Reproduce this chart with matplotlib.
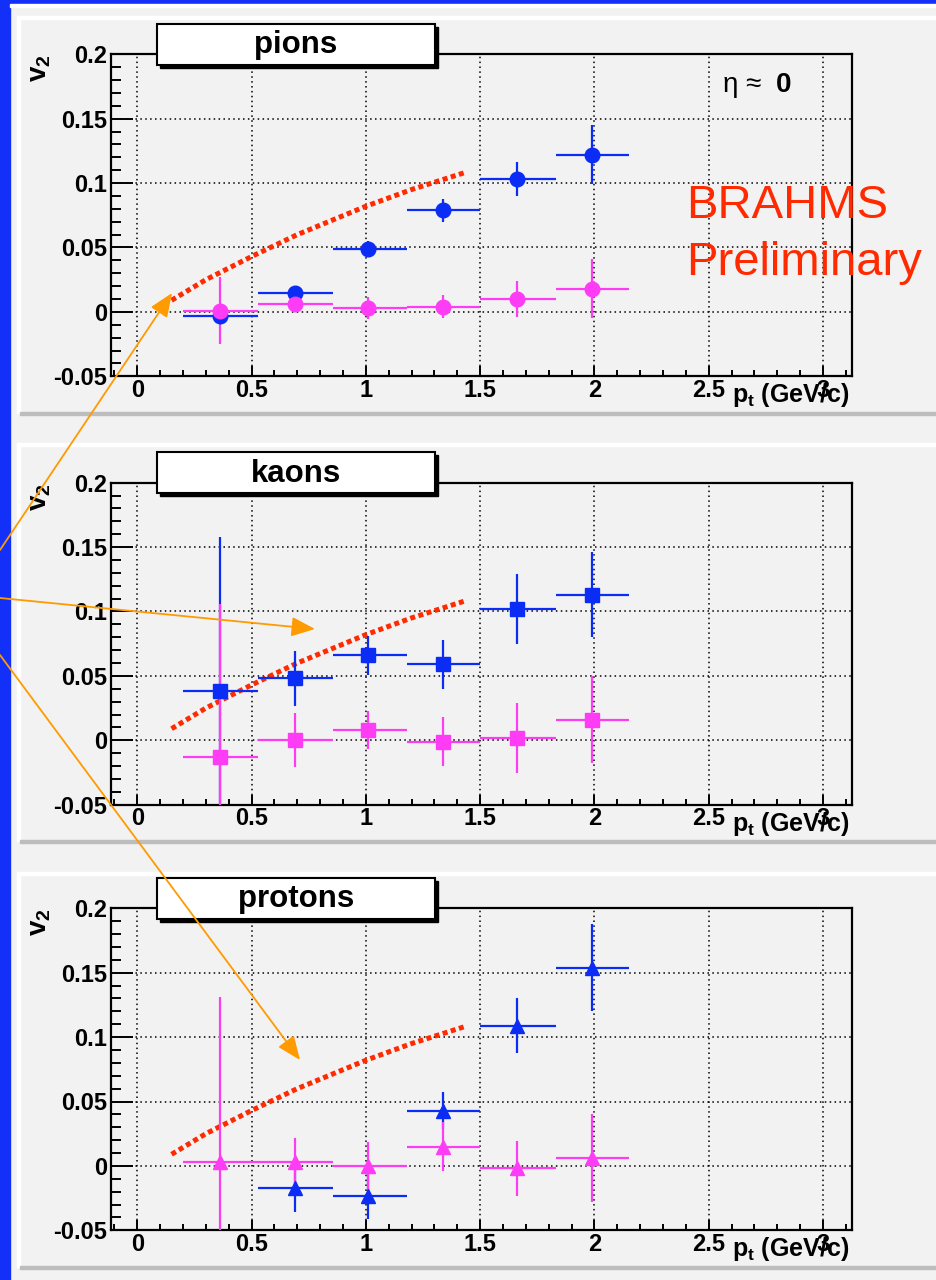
import numpy as np
import matplotlib
matplotlib.use("Agg")
import matplotlib.pyplot as plt
from matplotlib.patches import Rectangle
from matplotlib.ticker import MultipleLocator, FuncFormatter

plt.rcParams["font.family"] = ["Liberation Sans", "DejaVu Sans"]
plt.rcParams["font.weight"] = "bold"
plt.rcParams["axes.unicode_minus"] = False
plt.rcParams["mathtext.fontset"] = "custom"
plt.rcParams["mathtext.rm"] = "Liberation Sans"
plt.rcParams["mathtext.it"] = "Liberation Sans:italic"
plt.rcParams["mathtext.bf"] = "Liberation Sans:bold"

# ---------------------------------------------------------------- data
# pT bin centres and bin edges (GeV/c)
pt = np.array([0.362, 0.690, 1.010, 1.338, 1.663, 1.991])
pt_lo = np.array([0.200, 0.530, 0.855, 1.180, 1.500, 1.830])
pt_hi = np.array([0.530, 0.855, 1.180, 1.500, 1.830, 2.150])

# pions
pion_blue = [-0.003, 0.015, 0.049, 0.079, 0.103, 0.122]
pion_blue_err = [0.005, 0.005, 0.006, 0.009, 0.013, 0.023]
pion_pink = [0.001, 0.006, 0.003, 0.004, 0.010, 0.018]
pion_pink_err = [0.026, 0.005, 0.0085, 0.009, 0.014, 0.023]

# kaons
kaon_blue = [0.038, 0.048, 0.066, 0.059, 0.102, 0.113]
kaon_blue_err = [0.120, 0.021, 0.015, 0.019, 0.027, 0.033]
kaon_pink = [-0.013, 0.0005, 0.008, -0.001, 0.002, 0.016]
kaon_pink_err = [0.119, 0.021, 0.015, 0.019, 0.027, 0.034]

# protons (no blue measurement in the lowest bin)
proton_blue = [np.nan, -0.017, -0.023, 0.043, 0.109, 0.154]
proton_blue_err = [np.nan, 0.019, 0.018, 0.0145, 0.021, 0.034]
proton_pink = [0.003, 0.003, 0.000, 0.015, -0.002, 0.006]
proton_pink_err = [0.128, 0.019, 0.0185, 0.019, 0.021, 0.034]

# hydrodynamics curve
hydro_pt = [0.15, 0.30, 0.50, 0.70, 1.00, 1.20, 1.43]
hydro_v2 = [0.009, 0.025, 0.043, 0.060, 0.082, 0.095, 0.108]

titles = ["pions", "kaons", "protons"]
markers = ["o", "s", "^"]
blue_sets = [(pion_blue, pion_blue_err), (kaon_blue, kaon_blue_err),
             (proton_blue, proton_blue_err)]
pink_sets = [(pion_pink, pion_pink_err), (kaon_pink, kaon_pink_err),
             (proton_pink, proton_pink_err)]
x_ticks = [0, 0.5, 1, 1.5, 2, 2.5, 3]
y_ticks = [-0.05, 0, 0.05, 0.1, 0.15, 0.2]

# ---------------------------------------------------------------- styling
W, H = 937, 1280
BLUE_BG = "#1230f8"
PAD = "#f2f2f2"
C_BLUE = "#0a2cf5"
C_PINK = "#ff3cf5"
C_RED = "#ff2a00"
C_ORANGE = "#ff9a00"

fig = plt.figure(figsize=(W / 100, H / 100), dpi=100)

# background layer in pixel coordinates
bg = fig.add_axes([0, 0, 1, 1])
bg.set_xlim(0, W)
bg.set_ylim(H, 0)
bg.axis("off")
bg.set_zorder(-5)
bg.add_patch(Rectangle((0, 0), W, H, color=PAD))
bg.add_patch(Rectangle((0, 0), 10, H, color=BLUE_BG))
bg.add_patch(Rectangle((0, 0), W, 4, color=BLUE_BG))
bg.add_patch(Rectangle((10, 4), W, 3, color="white"))

pad_tops = [16, 443, 872]
pad_bottoms = [413, 841, 1267]
for t, b in zip(pad_tops, pad_bottoms):
    bg.add_patch(Rectangle((17, t), W, 3, color="white"))
    bg.add_patch(Rectangle((17, t), 3, b - t, color="white"))
    bg.add_patch(Rectangle((20, b - 1.5), W, 3.5, color="#bdbdbd"))

# overlay layer for boxes, labels and arrows
ov = fig.add_axes([0, 0, 1, 1])
ov.set_xlim(0, W)
ov.set_ylim(H, 0)
ov.axis("off")
ov.set_zorder(10)
ov.patch.set_alpha(0)

ax_left, ax_w, ax_h = 111, 741, 322
ax_tops = [54.3, 482.7, 908.3]


def fmt(v, _pos):
    return "%g" % v


for i in range(3):
    top = ax_tops[i]
    ax = fig.add_axes([ax_left / W, 1 - (top + ax_h) / H, ax_w / W, ax_h / H])
    ax.set_facecolor("none")
    ax.set_xlim(-0.115, 3.127)
    ax.set_ylim(-0.05, 0.2)

    ax.xaxis.set_major_locator(plt.FixedLocator(x_ticks))
    ax.yaxis.set_major_locator(plt.FixedLocator(y_ticks))
    ax.xaxis.set_minor_locator(MultipleLocator(0.1))
    ax.yaxis.set_minor_locator(MultipleLocator(0.01))
    ax.xaxis.set_major_formatter(FuncFormatter(fmt))
    ax.yaxis.set_major_formatter(FuncFormatter(fmt))
    ax.tick_params(which="both", direction="in", top=False, right=False,
                   width=1.4, labelsize=17)
    ax.xaxis.set_tick_params(which="major", length=7.5, pad=2)
    ax.xaxis.set_tick_params(which="minor", length=4.5)
    ax.yaxis.set_tick_params(which="major", length=16, pad=3)
    ax.yaxis.set_tick_params(which="minor", length=7.5)
    for sp in ax.spines.values():
        sp.set_linewidth(1.6)
    ax.grid(True, which="major", color="black", linestyle=(0, (1, 2.2)),
            linewidth=1.1)

    # hydro curve
    ax.plot(hydro_pt, hydro_v2, color=C_RED, lw=3.6,
            linestyle=(0, (1.0, 0.7)), zorder=3)

    for (vals, errs), col in ((blue_sets[i], C_BLUE), (pink_sets[i], C_PINK)):
        v = np.asarray(vals, dtype=float)
        e = np.asarray(errs, dtype=float)
        ok = np.isfinite(v)
        ax.errorbar(pt[ok], v[ok], yerr=e[ok],
                    xerr=[pt[ok] - pt_lo[ok], pt_hi[ok] - pt[ok]],
                    fmt=markers[i], color=col, mfc=col, mec=col,
                    ms=10.5 if markers[i] == "o" else 10,
                    elinewidth=1.6, capsize=0, zorder=4)

    # title box with shadow
    bx, by, bw, bh = 157, top - 30.5, 278, 41
    ov.add_patch(Rectangle((bx + 3, by + 3), bw, bh, facecolor="black",
                           edgecolor="black", lw=1))
    ov.add_patch(Rectangle((bx, by), bw, bh, facecolor="white",
                           edgecolor="black", lw=1.5))
    ov.text(bx + bw / 2, by + bh / 2 + 1, titles[i], fontsize=22.5,
            ha="center", va="center")

    # axis titles
    ov.text(40, top + 14, r"$\mathbf{v_2}$", fontsize=20, rotation=90,
            ha="center", va="center")
    ov.text(849, top + ax_h + 19, r"$\mathbf{p_t}$ (GeV/c)", fontsize=18,
            ha="right", va="center")

# pseudorapidity note and preliminary label on the pion panel
ov.text(723, 91.5, "η ≈", fontsize=20, fontweight="normal", va="baseline")
ov.text(776, 91.5, "0", fontsize=20, fontweight="bold", va="baseline")
ov.text(686, 218, "BRAHMS", fontsize=34, fontweight="normal",
        color=C_RED, va="baseline")
ov.text(686, 275, "Preliminary", fontsize=34, fontweight="normal",
        color=C_RED, va="baseline")

# pointer arrows to the hydro curves
arrow_starts = [(0, 550), (0, 598), (0, 655)]
arrow_tips = [(172, 293), (315, 629), (300, 1060)]
for s, t in zip(arrow_starts, arrow_tips):
    ov.annotate("", xy=t, xytext=s,
                arrowprops=dict(arrowstyle="-|>,head_length=1.45,head_width=0.6",
                                color=C_ORANGE, lw=1.3, shrinkA=0, shrinkB=0,
                                mutation_scale=10))

fig.savefig("out.png", dpi=100)
